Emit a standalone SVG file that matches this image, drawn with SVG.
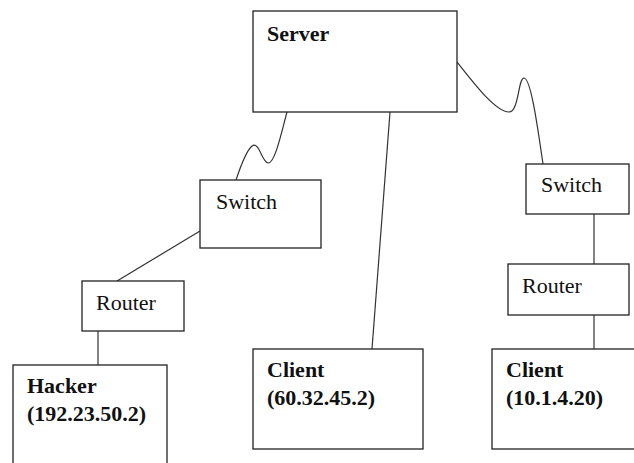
<svg xmlns="http://www.w3.org/2000/svg" width="634" height="463" viewBox="0 0 634 463">
<style>
.box{fill:#fff;stroke:#222;stroke-width:1.3}
.ln{fill:none;stroke:#333;stroke-width:1.2}
.b{font-family:"Liberation Serif",serif;font-weight:bold;font-size:22px;fill:#111}
.r{font-family:"Liberation Serif",serif;font-size:22px;fill:#111}
</style>
<rect width="634" height="463" fill="#fff"/>
<g id="connectors">
<path class="ln" d="M287,112 C282,130 275,164 268,163 C262,162 259,141 252,146 C246,151 240,168 236,180"/>
<path class="ln" d="M390,112 L372,349"/>
<path class="ln" d="M457,62 C475,85 496,112 509,112 C519,112 518,78 524,78 C531,78 538,130 543,164"/>
<path class="ln" d="M200,231 L117,281"/>
<path class="ln" d="M98,331 L98,365"/>
<path class="ln" d="M594,214 L594,264"/>
<path class="ln" d="M594,315 L594,349"/>
</g>
<g id="server">
<rect class="box" x="253" y="11" width="204" height="101"/>
<text class="b" x="267" y="41">Server</text>
</g>
<g id="switch-left">
<rect class="box" x="200" y="180" width="121" height="68"/>
<text class="r" x="216" y="209">Switch</text>
</g>
<g id="router-left">
<rect class="box" x="82" y="281" width="102" height="50"/>
<text class="r" x="96" y="310">Router</text>
</g>
<g id="hacker">
<rect class="box" x="13" y="365" width="154" height="110"/>
<text class="b" x="27" y="393">Hacker</text>
<text class="b" x="27" y="421">(192.23.50.2)</text>
</g>
<g id="client-middle">
<rect class="box" x="253" y="349" width="170" height="100"/>
<text class="b" x="267" y="377">Client</text>
<text class="b" x="267" y="405">(60.32.45.2)</text>
</g>
<g id="switch-right">
<rect class="box" x="526" y="164" width="103" height="50"/>
<text class="r" x="541" y="192">Switch</text>
</g>
<g id="router-right">
<rect class="box" x="508" y="264" width="121" height="51"/>
<text class="r" x="522" y="293">Router</text>
</g>
<g id="client-right">
<rect class="box" x="492" y="349" width="160" height="100"/>
<text class="b" x="506" y="377">Client</text>
<text class="b" x="506" y="405">(10.1.4.20)</text>
</g>
</svg>
